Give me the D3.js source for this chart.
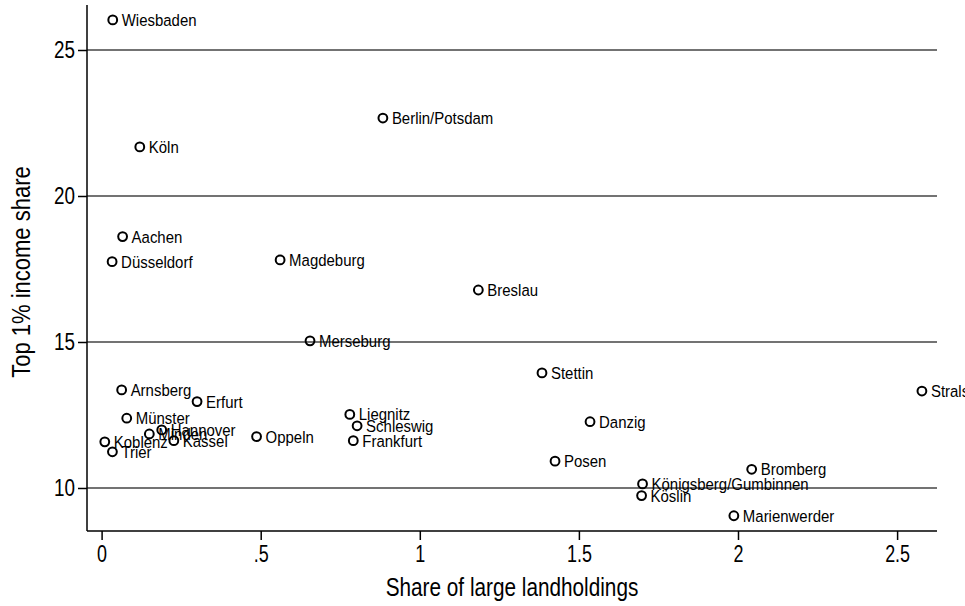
<!DOCTYPE html>
<html>
<head>
<meta charset="utf-8">
<script src="https://cdn.jsdelivr.net/npm/d3@7"></script>
<style>
  html, body { margin: 0; padding: 0; background: #fff; }
  svg { display: block; }
  text { font-family: "Liberation Sans", Arial, sans-serif; fill: #000; }
</style>
</head>
<body>
<svg id="chart" width="965" height="606"></svg>
<script>
// ---- data ----
const regions = ["Wiesbaden","Berlin/Potsdam","Köln","Aachen","Düsseldorf","Magdeburg","Breslau","Merseburg","Stettin","Stralsund","Arnsberg","Erfurt","Münster","Hannover","Minden","Koblenz","Kassel","Trier","Oppeln","Liegnitz","Schleswig","Frankfurt","Danzig","Posen","Bromberg","Königsberg/Gumbinnen","Köslin","Marienwerder"];
const landShare = [0.035,0.884,0.120,0.066,0.033,0.561,1.184,0.655,1.384,2.578,0.063,0.300,0.079,0.189,0.150,0.010,0.227,0.034,0.487,0.780,0.803,0.791,1.535,1.425,2.043,1.700,1.697,1.987];
const top1Share = [26.03,22.67,21.68,18.61,17.75,17.81,16.78,15.04,13.94,13.32,13.36,12.96,12.39,11.99,11.85,11.58,11.62,11.24,11.76,12.52,12.13,11.62,12.27,10.92,10.64,10.14,9.74,9.05];
const xTicks = [0, 0.5, 1, 1.5, 2, 2.5];
const xTickLabels = ["0", ".5", "1", "1.5", "2", "2.5"];
const yTicks = [10, 15, 20, 25];
const yTickLabels = ["10", "15", "20", "25"];
const xTitle = "Share of large landholdings";
const yTitle = "Top 1% income share";

const data = regions.map((r, i) => ({ name: r, x: landShare[i], y: top1Share[i] }));

// ---- layout ----
const svg = d3.select("#chart");
const mLeft = 87, mRight = 937, mTop = 5, mBottom = 531;

const x = d3.scaleLinear().domain([-0.0459, 2.6254]).range([mLeft, mRight]);
const y = d3.scaleLinear().domain([8.527, 26.541]).range([mBottom, mTop]);

// condensed look: horizontal squeeze of glyphs around the anchor point
const squeeze = (sel, px, py, sx, rot) =>
  sel.attr("x", 0).attr("y", 0)
     .attr("transform", `translate(${px},${py})${rot ? ` rotate(${rot})` : ""} scale(${sx},1)`);

// gridlines
svg.append("g")
  .selectAll("line")
  .data(yTicks)
  .join("line")
  .attr("x1", mLeft).attr("x2", mRight)
  .attr("y1", d => y(d)).attr("y2", d => y(d))
  .attr("stroke", "#444").attr("stroke-width", 1.3);

// axes
const xAxis = d3.axisBottom(x).tickValues(xTicks)
  .tickFormat((d, i) => xTickLabels[i]).tickSize(9).tickSizeOuter(0);
const yAxis = d3.axisLeft(y).tickValues(yTicks)
  .tickFormat((d, i) => yTickLabels[i]).tickSize(9).tickSizeOuter(0);

const gx = svg.append("g").attr("transform", `translate(0,${mBottom})`).call(xAxis);
const gy = svg.append("g").attr("transform", `translate(${mLeft},0)`).call(yAxis);

[gx, gy].forEach(g => {
  g.select(".domain").attr("stroke", "#000").attr("stroke-width", 1.5);
  g.selectAll(".tick line").attr("stroke", "#000").attr("stroke-width", 1.5);
  g.selectAll(".tick text").attr("font-size", 23)
    .attr("font-family", '"Liberation Sans", Arial, sans-serif')
    .attr("fill", "#000");
});
gx.select(".domain").attr("d", `M${mLeft},0H${mRight}`);
gy.select(".domain").attr("d", `M0,${mTop}V${mBottom}`);

gx.selectAll(".tick text").attr("dy", null).each(function () {
  squeeze(d3.select(this), 0, 31, 0.78);
});
gy.selectAll(".tick text").attr("dy", null).each(function () {
  squeeze(d3.select(this), -12, 8, 0.82);
});

// titles
squeeze(svg.append("text")
  .attr("text-anchor", "middle").attr("font-size", 25)
  .text(xTitle), (mLeft + mRight) / 2, 596, 0.83);

squeeze(svg.append("text")
  .attr("text-anchor", "middle").attr("font-size", 25)
  .text(yTitle), 30, 272, 0.88, -90);

// points
const pts = svg.append("g");
pts.selectAll("circle")
  .data(data)
  .join("circle")
  .attr("cx", d => x(d.x)).attr("cy", d => y(d.y))
  .attr("r", 4.4)
  .attr("fill", "none").attr("stroke", "#000").attr("stroke-width", 2);

pts.selectAll("text")
  .data(data)
  .join("text")
  .attr("font-size", 17)
  .text(d => d.name)
  .each(function (d) {
    squeeze(d3.select(this), x(d.x) + 9, y(d.y) + 6, 0.88);
  });
</script>
</body>
</html>
